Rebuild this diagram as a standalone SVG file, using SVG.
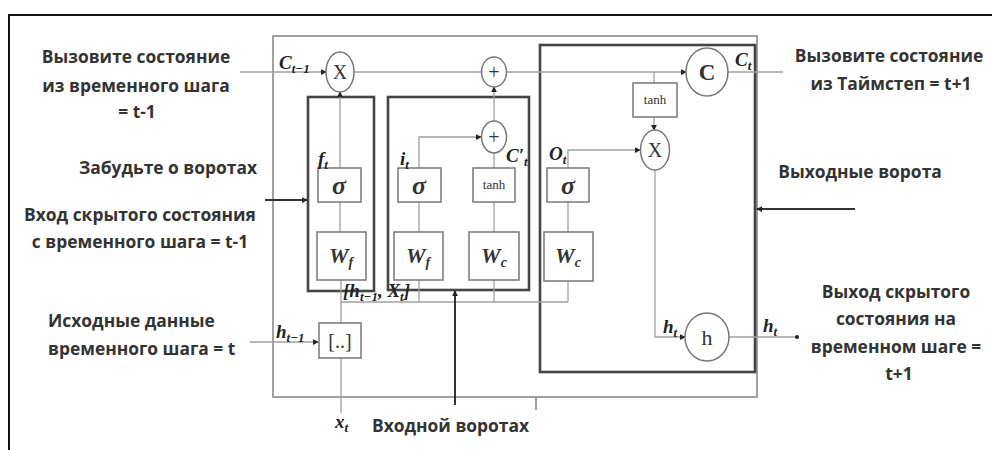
<svg xmlns="http://www.w3.org/2000/svg" width="992" height="450" viewBox="0 0 992 450">
<defs>
<style>
.frame{stroke:#111;stroke-width:2;fill:none}
.outer{stroke:#8a8a8a;stroke-width:1.6;fill:none}
.gate{stroke:#444;stroke-width:2.6;fill:none}
.box{stroke:#777;stroke-width:1.5;fill:#fff}
.op{stroke:#777;stroke-width:1.5;fill:#fff}
.wire{stroke:#a0a0a0;stroke-width:1.3;fill:none}
.dk{stroke:#333;stroke-width:2;fill:none}
.lbl{font-family:"Open Sans","Liberation Sans",sans-serif;font-weight:bold;font-size:17.4px;fill:#333}
.math{font-family:"Liberation Serif",serif;font-style:italic;font-weight:bold;font-size:19px;fill:#222}
.sub{font-size:13px}
.sym{font-family:"Liberation Serif",serif;fill:#333;text-anchor:middle}
</style>
<marker id="ah" viewBox="0 0 8 8" refX="7" refY="4" markerWidth="6" markerHeight="6" markerUnits="userSpaceOnUse" orient="auto">
<path d="M0,0 L8,4 L0,8 z" fill="#222"/>
</marker>
</defs>
<rect width="992" height="450" fill="#fff"/>
<path class="frame" d="M9,450 V15 H992"/>

<g id="lstm-cell">
<rect class="outer" x="273" y="36" width="484" height="361"/>
</g>
<g id="forget-gate"><rect class="gate" x="308" y="97" width="66" height="194"/></g>
<g id="input-gate"><rect class="gate" x="388" y="97" width="141" height="193"/></g>
<g id="output-gate"><rect class="gate" x="540" y="45" width="215" height="327"/></g>

<g id="connectors">
<line class="wire" x1="240" y1="72" x2="326" y2="72" marker-end="url(#ah)"/>
<line class="wire" x1="354" y1="72" x2="482" y2="72"/>
<line class="wire" x1="507" y1="72" x2="686" y2="72" marker-end="url(#ah)"/>
<line class="wire" x1="727" y1="72" x2="783" y2="72"/>
<line class="wire" x1="340" y1="168" x2="340" y2="92" marker-end="url(#ah)"/>
<line class="wire" x1="340" y1="202" x2="340" y2="232"/>
<line class="wire" x1="341" y1="280" x2="341" y2="323"/>
<line class="wire" x1="341" y1="358" x2="341" y2="413"/>
<line class="wire" x1="419" y1="202" x2="419" y2="232"/>
<line class="wire" x1="419" y1="280" x2="419" y2="302"/>
<polyline class="wire" points="419,168 419,137 481,137" marker-end="url(#ah)"/>
<line class="wire" x1="494" y1="202" x2="494" y2="232"/>
<line class="wire" x1="494" y1="280" x2="494" y2="302"/>
<line class="wire" x1="494" y1="168" x2="494" y2="153"/>
<line class="wire" x1="494" y1="121" x2="494" y2="87" marker-end="url(#ah)"/>
<line class="wire" x1="568" y1="202" x2="568" y2="232"/>
<line class="wire" x1="568" y1="281" x2="568" y2="302"/>
<polyline class="wire" points="568,168 568,150 640,150" marker-end="url(#ah)"/>
<line class="wire" x1="341" y1="302" x2="568" y2="302"/>
<line class="wire" x1="654" y1="72" x2="654" y2="83"/>
<line class="wire" x1="654" y1="117" x2="654" y2="130" marker-end="url(#ah)"/>
<polyline class="wire" points="655,170 655,337 685,337" marker-end="url(#ah)"/>
<line class="wire" x1="729" y1="337" x2="796" y2="337"/>
<circle cx="797" cy="337" r="2" fill="#222"/>
<line class="wire" x1="250" y1="342" x2="318" y2="342" marker-end="url(#ah)"/>
<line class="dk" x1="265" y1="200" x2="307" y2="200" marker-end="url(#ah)"/>
<line class="dk" x1="455" y1="405" x2="455" y2="291" marker-end="url(#ah)"/>
<line class="dk" x1="855" y1="209" x2="757" y2="209" marker-end="url(#ah)"/>
<line class="outer" x1="536" y1="397" x2="536" y2="410"/>
</g>

<g id="mul-forget"><ellipse class="op" cx="340" cy="72" rx="14" ry="20"/><text class="sym" x="340" y="79" font-size="20">X</text></g>
<g id="add-cell"><ellipse class="op" cx="494" cy="72" rx="12.5" ry="15"/><text class="sym" x="494" y="79" font-size="20">+</text></g>
<g id="add-input"><ellipse class="op" cx="494" cy="137" rx="12.5" ry="16"/><text class="sym" x="494" y="144" font-size="20">+</text></g>
<g id="cell-state"><ellipse class="op" cx="707" cy="72" rx="21" ry="24"/><text class="sym" x="707" y="80" font-size="23" font-weight="bold">C</text></g>
<g id="tanh-out"><rect class="box" x="633" y="83" width="44" height="34"/><text class="sym" x="655" y="104" font-size="13">tanh</text></g>
<g id="mul-out"><ellipse class="op" cx="655" cy="150" rx="14.5" ry="20"/><text class="sym" x="655" y="157" font-size="20">X</text></g>
<g id="hidden"><ellipse class="op" cx="707" cy="337" rx="22" ry="24"/><text class="sym" x="707" y="345" font-size="22">h</text></g>

<g id="sigma-f"><rect class="box" x="318" y="168" width="43" height="34"/><text class="sym" x="339" y="194" font-size="26" font-style="italic" font-weight="bold">σ</text></g>
<g id="sigma-i"><rect class="box" x="398" y="168" width="43" height="34"/><text class="sym" x="419" y="194" font-size="26" font-style="italic" font-weight="bold">σ</text></g>
<g id="tanh-c"><rect class="box" x="473" y="168" width="42" height="34"/><text class="sym" x="494" y="189" font-size="13">tanh</text></g>
<g id="sigma-o"><rect class="box" x="547" y="168" width="42" height="34"/><text class="sym" x="568" y="194" font-size="26" font-style="italic" font-weight="bold">σ</text></g>

<g id="w-f"><rect class="box" x="317" y="232" width="49" height="48"/><text class="sym" x="341" y="263" font-size="22" font-style="italic" font-weight="bold">W<tspan font-size="14" dy="4">f</tspan></text></g>
<g id="w-i"><rect class="box" x="394" y="232" width="49" height="48"/><text class="sym" x="418" y="263" font-size="22" font-style="italic" font-weight="bold">W<tspan font-size="14" dy="4">f</tspan></text></g>
<g id="w-c"><rect class="box" x="469" y="232" width="50" height="48"/><text class="sym" x="494" y="263" font-size="22" font-style="italic" font-weight="bold">W<tspan font-size="14" dy="4">c</tspan></text></g>
<g id="w-o"><rect class="box" x="544" y="232" width="49" height="49"/><text class="sym" x="568" y="263" font-size="22" font-style="italic" font-weight="bold">W<tspan font-size="14" dy="4">c</tspan></text></g>

<g id="concat"><rect class="box" x="319" y="323" width="42" height="35"/><text class="sym" x="340" y="348" font-size="20">[..]</text></g>

<g id="math-labels">
<text class="math" x="279" y="69">C<tspan class="sub" dy="4">t−1</tspan></text>
<text class="math" x="318" y="165">f<tspan class="sub" dy="4">t</tspan></text>
<text class="math" x="400" y="165">i<tspan class="sub" dy="4">t</tspan></text>
<text class="math" x="506" y="162">C′<tspan class="sub" dy="4">t</tspan></text>
<text class="math" x="549" y="160">O<tspan class="sub" dy="4">t</tspan></text>
<text class="math" x="735" y="66">C<tspan class="sub" dy="4">t</tspan></text>
<text class="math" x="663" y="333">h<tspan class="sub" dy="4">t</tspan></text>
<text class="math" x="763" y="332">h<tspan class="sub" dy="4">t</tspan></text>
<text class="math" x="276" y="338">h<tspan class="sub" dy="4">t−1</tspan></text>
<text class="math" x="343" y="297">[h<tspan class="sub" dy="4">t−1</tspan><tspan dy="-4">, X</tspan><tspan class="sub" dy="4">t</tspan><tspan dy="-4">]</tspan></text>
<text class="math" x="335" y="428">x<tspan class="sub" dy="4">t</tspan></text>
</g>

<g id="labels" class="lbl">
<text x="136" y="63" text-anchor="middle">Вызовите состояние</text>
<text x="136" y="92" text-anchor="middle">из временного шага</text>
<text x="137" y="118" text-anchor="middle">= t-1</text>
<text x="889" y="62" text-anchor="middle">Вызовите состояние</text>
<text x="891" y="90" text-anchor="middle">из Таймстеп = t+1</text>
<text x="168" y="174" text-anchor="middle">Забудьте о воротах</text>
<text x="140" y="221" text-anchor="middle">Вход скрытого состояния</text>
<text x="140" y="248" text-anchor="middle">с временного шага = t-1</text>
<text x="860" y="178" text-anchor="middle">Выходные ворота</text>
<text x="48" y="327">Исходные данные</text>
<text x="48" y="355">временного шага = t</text>
<text x="372" y="432">Входной воротах</text>
<text x="896" y="298" text-anchor="middle">Выход скрытого</text>
<text x="896" y="325" text-anchor="middle">состояния на</text>
<text x="896" y="353" text-anchor="middle">временном шаге =</text>
<text x="899" y="380" text-anchor="middle">t+1</text>
</g>
</svg>
